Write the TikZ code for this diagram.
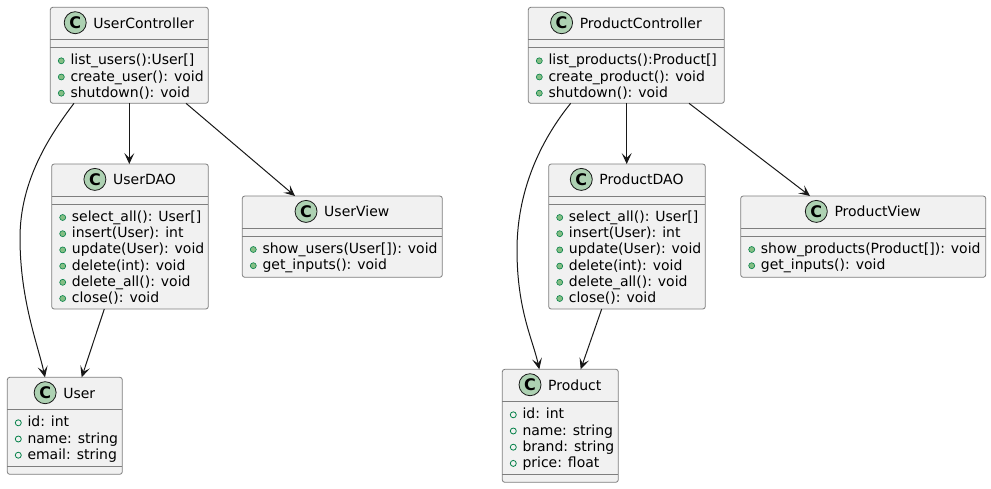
\documentclass[tikz,border=0pt]{standalone}
\usepackage{fontspec}
\setmainfont{DejaVu Sans}
\usetikzlibrary{calc,arrows.meta}
\definecolor{boxfill}{HTML}{F1F1F1}
\definecolor{linec}{HTML}{181818}
\definecolor{boxline}{HTML}{7E7E7E}
\definecolor{iconfill}{HTML}{ADD1B2}
\definecolor{mfill}{HTML}{84BE84}
\definecolor{mdraw}{HTML}{038048}
\tikzset{
 classbox/.style={draw=boxline, line width=0.8pt, fill=boxfill, rounded corners=2.5pt, inner sep=0pt, outer sep=0pt},
 classtitle/.style={anchor=base, inner sep=0pt, font=\fontsize{14}{16}\selectfont},
 classicon/.style={circle, draw=linec, line width=0.8pt, fill=iconfill, minimum size=22pt, inner sep=0pt, font=\fontsize{16}{16}\selectfont\bfseries},
 member/.style={anchor=base west, inner sep=0pt, font=\fontsize{14}{16}\selectfont},
 mbullet/.style={circle, draw=mdraw, line width=0.6pt, fill=mfill, minimum size=6pt, inner sep=0pt},
 fbullet/.style={circle, draw=mdraw, line width=0.8pt, minimum size=6pt, inner sep=0pt},
 sepline/.style={draw=boxline, line width=0.8pt},
 assoc/.style={draw=linec, line width=1pt, -{Stealth[length=11pt,width=10pt,inset=5pt]}},
}
% #1 name, #2 left, #3 top, #4 width, #5 height, #6 title
\newcommand\umlbox[6]{%
 \node[classbox, anchor=north west, minimum width=#4, minimum height=#5] (#1) at (#2,#3) {};
 \node[classtitle] (#1-t) at ($(#1.north)+(14.5,20.7)$) {#6};
 \node[classicon] (#1-c) at ($(#1-t.base west)+(-18,-5.3)$) {C};
 \draw[sepline] ($(#1.north west)+(0,32)$) -- ($(#1.north east)+(0,32)$);
}
% #1 name, #2 first row centre offset from top, #3 bullet style, #4 rows
\newcommand\umlrows[4]{%
 \foreach \t [count=\i] in {#4} {
  \node[#3] (#1-b\i) at ($(#1.north west)+(11,#2+16.2*\i-16.2)$) {};
  \node[member] (#1-m\i) at ($(#1.north west)+(20,#2+16.2*\i-16.2+4)$) {\t};
 }
}
\begin{document}
\begin{tikzpicture}[x=1pt,y=-1pt]
\useasboundingbox (0,0) rectangle (991,488);
% ---- User side
\umlbox{uc}{50.3}{7.3}{158}{96}{UserController}
\draw[sepline] ($(uc.north west)+(0,40)$) -- ($(uc.north east)+(0,40)$);
\umlrows{uc}{53.5}{mbullet}{{list\_users():User[]},{create\_user(): void},{shutdown(): void}}

\umlbox{udao}{51.7}{164}{156.6}{145}{UserDAO}
\draw[sepline] ($(udao.north west)+(0,40)$) -- ($(udao.north east)+(0,40)$);
\umlrows{udao}{53.5}{mbullet}{{select\_all(): User[]},{insert(User): int},{update(User): void},{delete(int): void},{delete\_all(): void},{close(): void}}

\umlbox{uview}{242.3}{196}{200}{81.3}{UserView}
\draw[sepline] ($(uview.north west)+(0,40)$) -- ($(uview.north east)+(0,40)$);
\umlrows{uview}{53.5}{mbullet}{{show\_users(User[]): void},{get\_inputs(): void}}

\umlbox{user}{7.3}{377.3}{115}{97}{User}
\draw[sepline] ($(user.south west)+(0,-8)$) -- ($(user.south east)+(0,-8)$);
\umlrows{user}{45.5}{fbullet}{{id: int},{name: string},{email: string}}

% ---- Product side
\umlbox{pc}{528.3}{7.3}{196}{96}{ProductController}
\draw[sepline] ($(pc.north west)+(0,40)$) -- ($(pc.north east)+(0,40)$);
\umlrows{pc}{53.5}{mbullet}{{list\_products():Product[]},{create\_product(): void},{shutdown(): void}}

\umlbox{pdao}{548.7}{164}{156.6}{145}{ProductDAO}
\draw[sepline] ($(pdao.north west)+(0,40)$) -- ($(pdao.north east)+(0,40)$);
\umlrows{pdao}{53.5}{mbullet}{{select\_all(): User[]},{insert(User): int},{update(User): void},{delete(int): void},{delete\_all(): void},{close(): void}}

\umlbox{pview}{740.7}{196}{245}{81.3}{ProductView}
\draw[sepline] ($(pview.north west)+(0,40)$) -- ($(pview.north east)+(0,40)$);
\umlrows{pview}{53.5}{mbullet}{{show\_products(Product[]): void},{get\_inputs(): void}}

\umlbox{prod}{502.3}{369.3}{116}{113}{Product}
\draw[sepline] ($(prod.south west)+(0,-8)$) -- ($(prod.south east)+(0,-8)$);
\umlrows{prod}{45.5}{fbullet}{{id: int},{name: string},{brand: string},{price: float}}

% ---- connectors
\coordinate (ubend) at (20,238);
\coordinate (pbend) at (517,250);
\draw[assoc] ($(uc.south west)+(23.7,0)$) .. controls (50,135) and (20,180) .. (ubend)
  .. controls (20,300) and (38,345) .. ($(user.north west)+(37.7,0)$);
\draw[assoc] ($(uc.south west)+(79,0)$) -- ($(udao.north west)+(77.6,0)$);
\draw[assoc] ($(uc.south west)+(135.7,0)$) -- ($(uview.north west)+(52.7,0)$);
\draw[assoc] ($(udao.south west)+(52.6,0)$) -- ($(user.north west)+(74.4,0)$);

\draw[assoc] ($(pc.south west)+(42.4,0)$) .. controls (545,135) and (517,185) .. (pbend)
  .. controls (517,310) and (533,340) .. ($(prod.north west)+(37,0)$);
\draw[assoc] ($(pc.south west)+(98.4,0)$) -- ($(pdao.north west)+(78,0)$);
\draw[assoc] ($(pc.south west)+(160.7,0)$) -- ($(pview.north west)+(69.3,0)$);
\draw[assoc] ($(pdao.south west)+(53,0)$) -- ($(prod.north west)+(78.4,0)$);
\end{tikzpicture}
\end{document}
